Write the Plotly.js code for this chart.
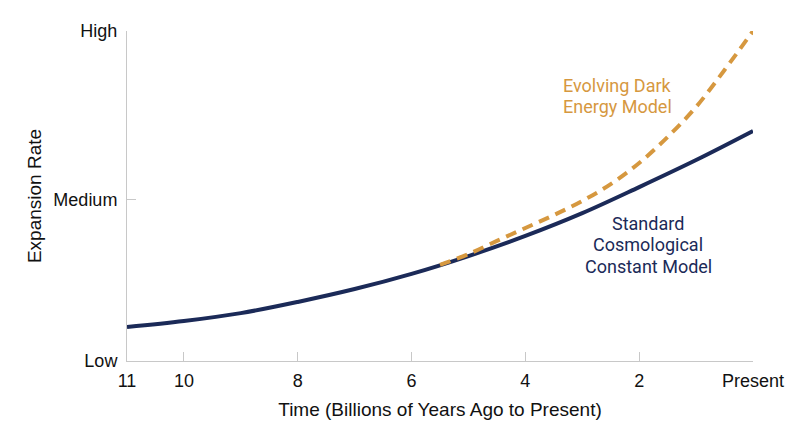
<!DOCTYPE html>
<html>
<head>
<meta charset="utf-8">
<script src="https://cdn.plot.ly/plotly-3.0.1.min.js"></script>
<style>html,body{margin:0;padding:0;background:#fff;}#chart{width:800px;height:447px;}</style>
</head>
<body>
<div id="chart"></div>
<script>
// Time in billions of years ago (0 = present)
const stdTime = [11, 10, 9, 8, 7, 6, 5, 4, 3, 2, 1, 0];
const stdRate = [1.03, 1.21, 1.45, 1.79, 2.18, 2.64, 3.18, 3.79, 4.48, 5.27, 6.09, 6.97];
const evoTime = [5.5, 5, 4.5, 4, 3.5, 3, 2.5, 2, 1.5, 1, 0.5, 0];
const evoRate = [2.91, 3.24, 3.64, 4.03, 4.42, 4.85, 5.36, 6.00, 6.79, 7.70, 8.82, 10.0];
const xTickVals = [11, 10, 8, 6, 4, 2, 0];
const xTickText = ['11', '10', '8', '6', '4', '2', 'Present'];
const yTickVals = [0, 4.88, 10];
const yTickText = ['Low', 'Medium', 'High'];
const evoLabel = ['Evolving Dark', 'Energy Model'];
const stdLabel = ['Standard', 'Cosmological', 'Constant Model'];

const NAVY = '#1b2a58';
const ORANGE = '#d6983f';
const AXISFONT = '"Liberation Sans", Arial, sans-serif';
const LABELFONT = 'Roboto, "Noto Sans", sans-serif';

const traces = [
  {x: stdTime, y: stdRate, type: 'scatter', mode: 'lines',
   line: {color: NAVY, width: 4, shape: 'spline'}, hoverinfo: 'skip'},
  {x: evoTime, y: evoRate, type: 'scatter', mode: 'lines',
   line: {color: ORANGE, width: 4, dash: '11px,7px', shape: 'spline'}, hoverinfo: 'skip'}
];

const annotations = [];
const evoY = [8.35, 7.70];
evoLabel.forEach((t, i) => annotations.push({
  x: 3.357, y: evoY[i], xref: 'x', yref: 'y', showarrow: false, text: t,
  xanchor: 'left', yanchor: 'middle', borderpad: 0,
  font: {family: LABELFONT, size: 18, color: ORANGE}
}));
const stdY = [4.17, 3.52, 2.86];
stdLabel.forEach((t, i) => annotations.push({
  x: 1.84, y: stdY[i], xref: 'x', yref: 'y', showarrow: false, text: t,
  xanchor: 'center', yanchor: 'middle', borderpad: 0,
  font: {family: LABELFONT, size: 18, color: NAVY}
}));

const layout = {
  width: 800, height: 447,
  margin: {l: 127, r: 47, t: 31, b: 86},
  paper_bgcolor: '#fff', plot_bgcolor: '#fff',
  showlegend: false,
  font: {family: AXISFONT, color: '#111', size: 17},
  xaxis: {
    range: [11, 0],
    tickvals: xTickVals, ticktext: xTickText,
    showgrid: false, zeroline: false,
    showline: true, linecolor: '#c8c8c8', linewidth: 1,
    ticks: 'inside', ticklen: 9, tickcolor: '#c8c8c8',
    ticklabelstandoff: 3,
    tickfont: {family: AXISFONT, size: 18, color: '#111'},
    title: {text: 'Time (Billions of Years Ago to Present)', font: {family: AXISFONT, size: 19, color: '#111'}, standoff: 13}
  },
  yaxis: {
    range: [0, 10],
    tickvals: yTickVals, ticktext: yTickText,
    showgrid: false, zeroline: false,
    showline: true, linecolor: '#c8c8c8', linewidth: 1,
    ticks: 'inside', ticklen: 9, tickcolor: '#c8c8c8',
    ticklabelstandoff: 5,
    tickfont: {family: AXISFONT, size: 18, color: '#111'},
    title: {text: 'Expansion Rate', font: {family: AXISFONT, size: 19, color: '#111'}, standoff: 6}
  },
  annotations: annotations
};

Plotly.newPlot('chart', traces, layout, {staticPlot: true, displayModeBar: false});
</script>
</body>
</html>
